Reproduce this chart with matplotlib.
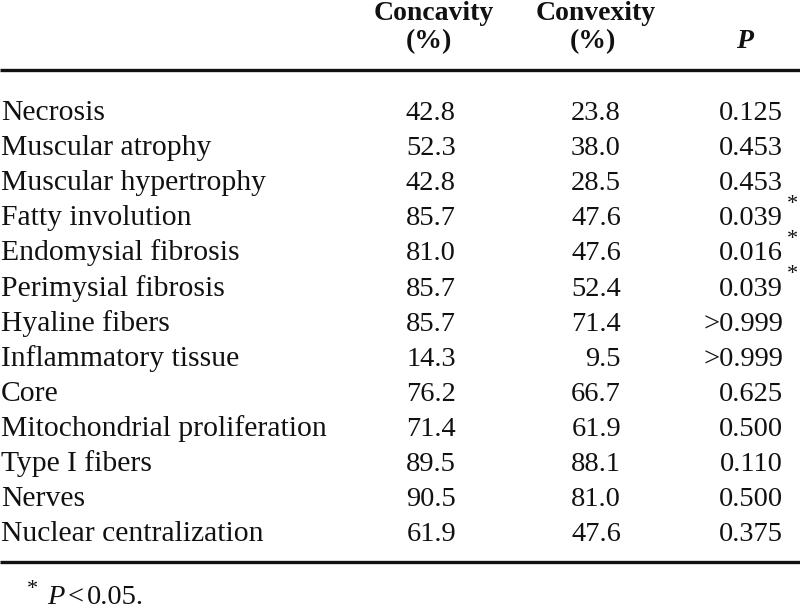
import matplotlib
matplotlib.use("Agg")
import matplotlib.pyplot as plt

# table contents
features = [
    "Necrosis", "Muscular atrophy", "Muscular hypertrophy", "Fatty involution",
    "Endomysial fibrosis", "Perimysial fibrosis", "Hyaline fibers",
    "Inflammatory tissue", "Core", "Mitochondrial proliferation",
    "Type I fibers", "Nerves", "Nuclear centralization",
]
concavity = [42.8, 52.3, 42.8, 85.7, 81.0, 85.7, 85.7, 14.3, 76.2, 71.4, 89.5, 90.5, 61.9]
convexity = [23.8, 38.0, 28.5, 47.6, 47.6, 52.4, 71.4, 9.5, 66.7, 61.9, 88.1, 81.0, 47.6]
p_values = ["0.125", "0.453", "0.453", "0.039", "0.016", "0.039", ">0.999",
            ">0.999", "0.625", "0.500", "0.110", "0.500", "0.375"]
significant = [False, False, False, True, True, True, False,
               False, False, False, False, False, False]

W, H = 800, 611
fig = plt.figure(figsize=(W / 100, H / 100), dpi=100)
ax = fig.add_axes([0, 0, 1, 1])
ax.set_xlim(0, W)
ax.set_ylim(H, 0)
ax.axis("off")

serif = "Liberation Serif"
fs = 20.5
ink = "#111111"

# ─── header ─────────────────────────────
hdr = dict(family=serif, fontsize=20, fontweight="bold", ha="center",
           va="baseline", color=ink)
ax.text(434, 20, "Concavity", **hdr)
ax.text(596, 20, "Convexity", **hdr)
ax.text(429, 48, "(%)", **hdr)
ax.text(593, 48, "(%)", **hdr)
ax.text(745, 48, "P", style="italic", **hdr)

ax.plot([0, W], [70, 70], color=ink, lw=2.4, solid_capstyle="butt")
ax.plot([0, W], [562, 562], color=ink, lw=2.4, solid_capstyle="butt")

# ─── rows ───────────────────────────────
y0, dy = 120, 35.1
cell = dict(family=serif, fontsize=fs, va="baseline", color=ink)
for i, name in enumerate(features):
    y = y0 + i * dy
    ax.text(1, y, name, family=serif, fontsize=21.3, va="baseline",
            ha="left", color=ink)
    ax.text(456, y, f"{concavity[i]:.1f}", ha="right", **cell)
    ax.text(621, y, f"{convexity[i]:.1f}", ha="right", **cell)
    ax.text(783, y, p_values[i], ha="right", **cell)
    if significant[i]:
        ax.text(787, y - 21, "*", family=serif, fontsize=16, ha="left",
                va="center", color=ink)

# ─── footnote ───────────────────────────
ax.text(27, 589, "*", family=serif, fontsize=16, ha="left", va="center", color=ink)
ax.text(47, 604, "P", family=serif, fontsize=fs, style="italic", ha="left",
        va="baseline", color=ink)
ax.text(68, 604, "<", family=serif, fontsize=fs, ha="left",
        va="baseline", color=ink)
ax.text(87, 604, "0.05.", family=serif, fontsize=fs, ha="left",
        va="baseline", color=ink)

fig.savefig("out.png", dpi=100, facecolor="white")
